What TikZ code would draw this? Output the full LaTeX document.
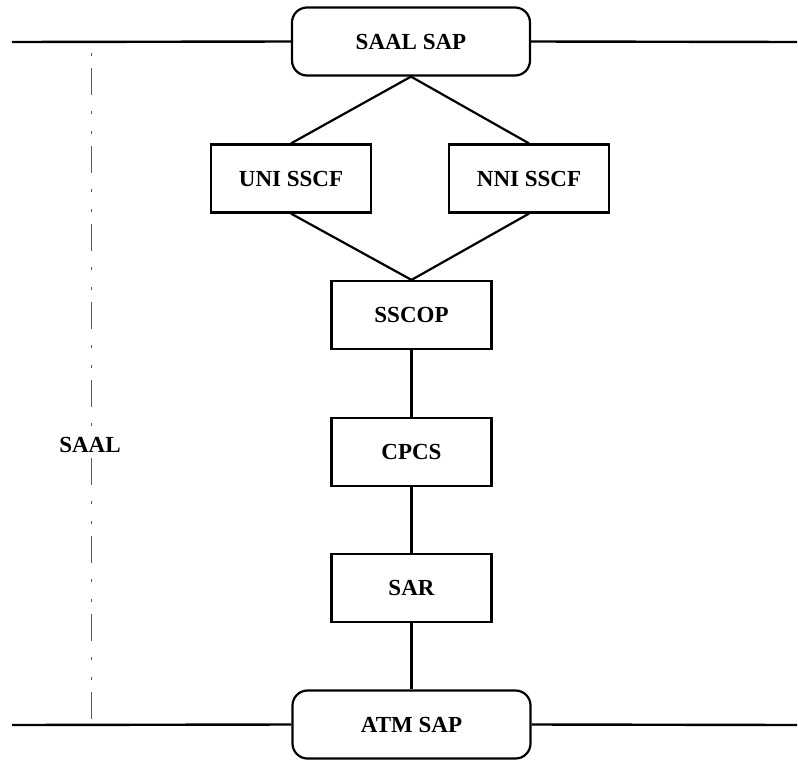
\documentclass[tikz,border=0pt]{standalone}
\usepackage{fontspec}
\setmainfont{Liberation Serif}
\begin{document}
\begin{tikzpicture}[x=1pt,y=-1pt,
  every node/.style={font=\bfseries\fontsize{23}{25}\selectfont},
  sap/.style={draw, line width=2.2pt, rounded corners=15pt, minimum width=238pt, minimum height=68pt, inner sep=0pt},
  layer/.style={draw, line width=2.2pt, minimum width=160pt, minimum height=68pt, inner sep=0pt},
  link/.style={line width=2.2pt},
  boundary/.style={line width=2.4pt},
  span/.style={line width=1pt, gray!70!black, dash pattern=on 27pt off 16pt on 3pt off 17pt on 3pt off 12pt, dash phase=52pt}
]
\useasboundingbox (0,0) rectangle (798,761);

% service access points
\node[sap] (saalsap) at (411,41.5) {SAAL SAP};
\node[sap] (atmsap) at (411.5,724.5) {ATM SAP};

% layer entities
\node[layer] (uni) at (291,178.5) {UNI SSCF};
\node[layer] (nni) at (529,178.5) {NNI SSCF};
\node[layer] (sscop) at (411.5,315) {SSCOP};
\node[layer] (cpcs) at (411.5,452) {CPCS};
\node[layer] (sar) at (411.5,588) {SAR};

% boundary lines
\coordinate (tl) at (12,42);
\coordinate (tr) at (797,42);
\coordinate (bl) at (12,725);
\coordinate (br) at (797,725);
\draw[boundary] (tl) -- (saalsap.west);
\draw[boundary] (saalsap.east) -- (tr);
\draw[boundary] (bl) -- (atmsap.west);
\draw[boundary] (atmsap.east) -- (br);

% extent of the SAAL
\coordinate (st) at (91,42);
\coordinate (sb) at (91,725);
\draw[span] (st) -- (sb);
\node[fill=white, inner sep=1pt] (saal) at (90,445) {SAAL};

% connections
\draw[link] (saalsap.south) -- (uni.north);
\draw[link] (saalsap.south) -- (nni.north);
\draw[link] (uni.south) -- (sscop.north);
\draw[link] (nni.south) -- (sscop.north);
\draw[link] (sscop) -- (cpcs);
\draw[link] (cpcs) -- (sar);
\draw[link] (sar) -- (atmsap);
\end{tikzpicture}
\end{document}
